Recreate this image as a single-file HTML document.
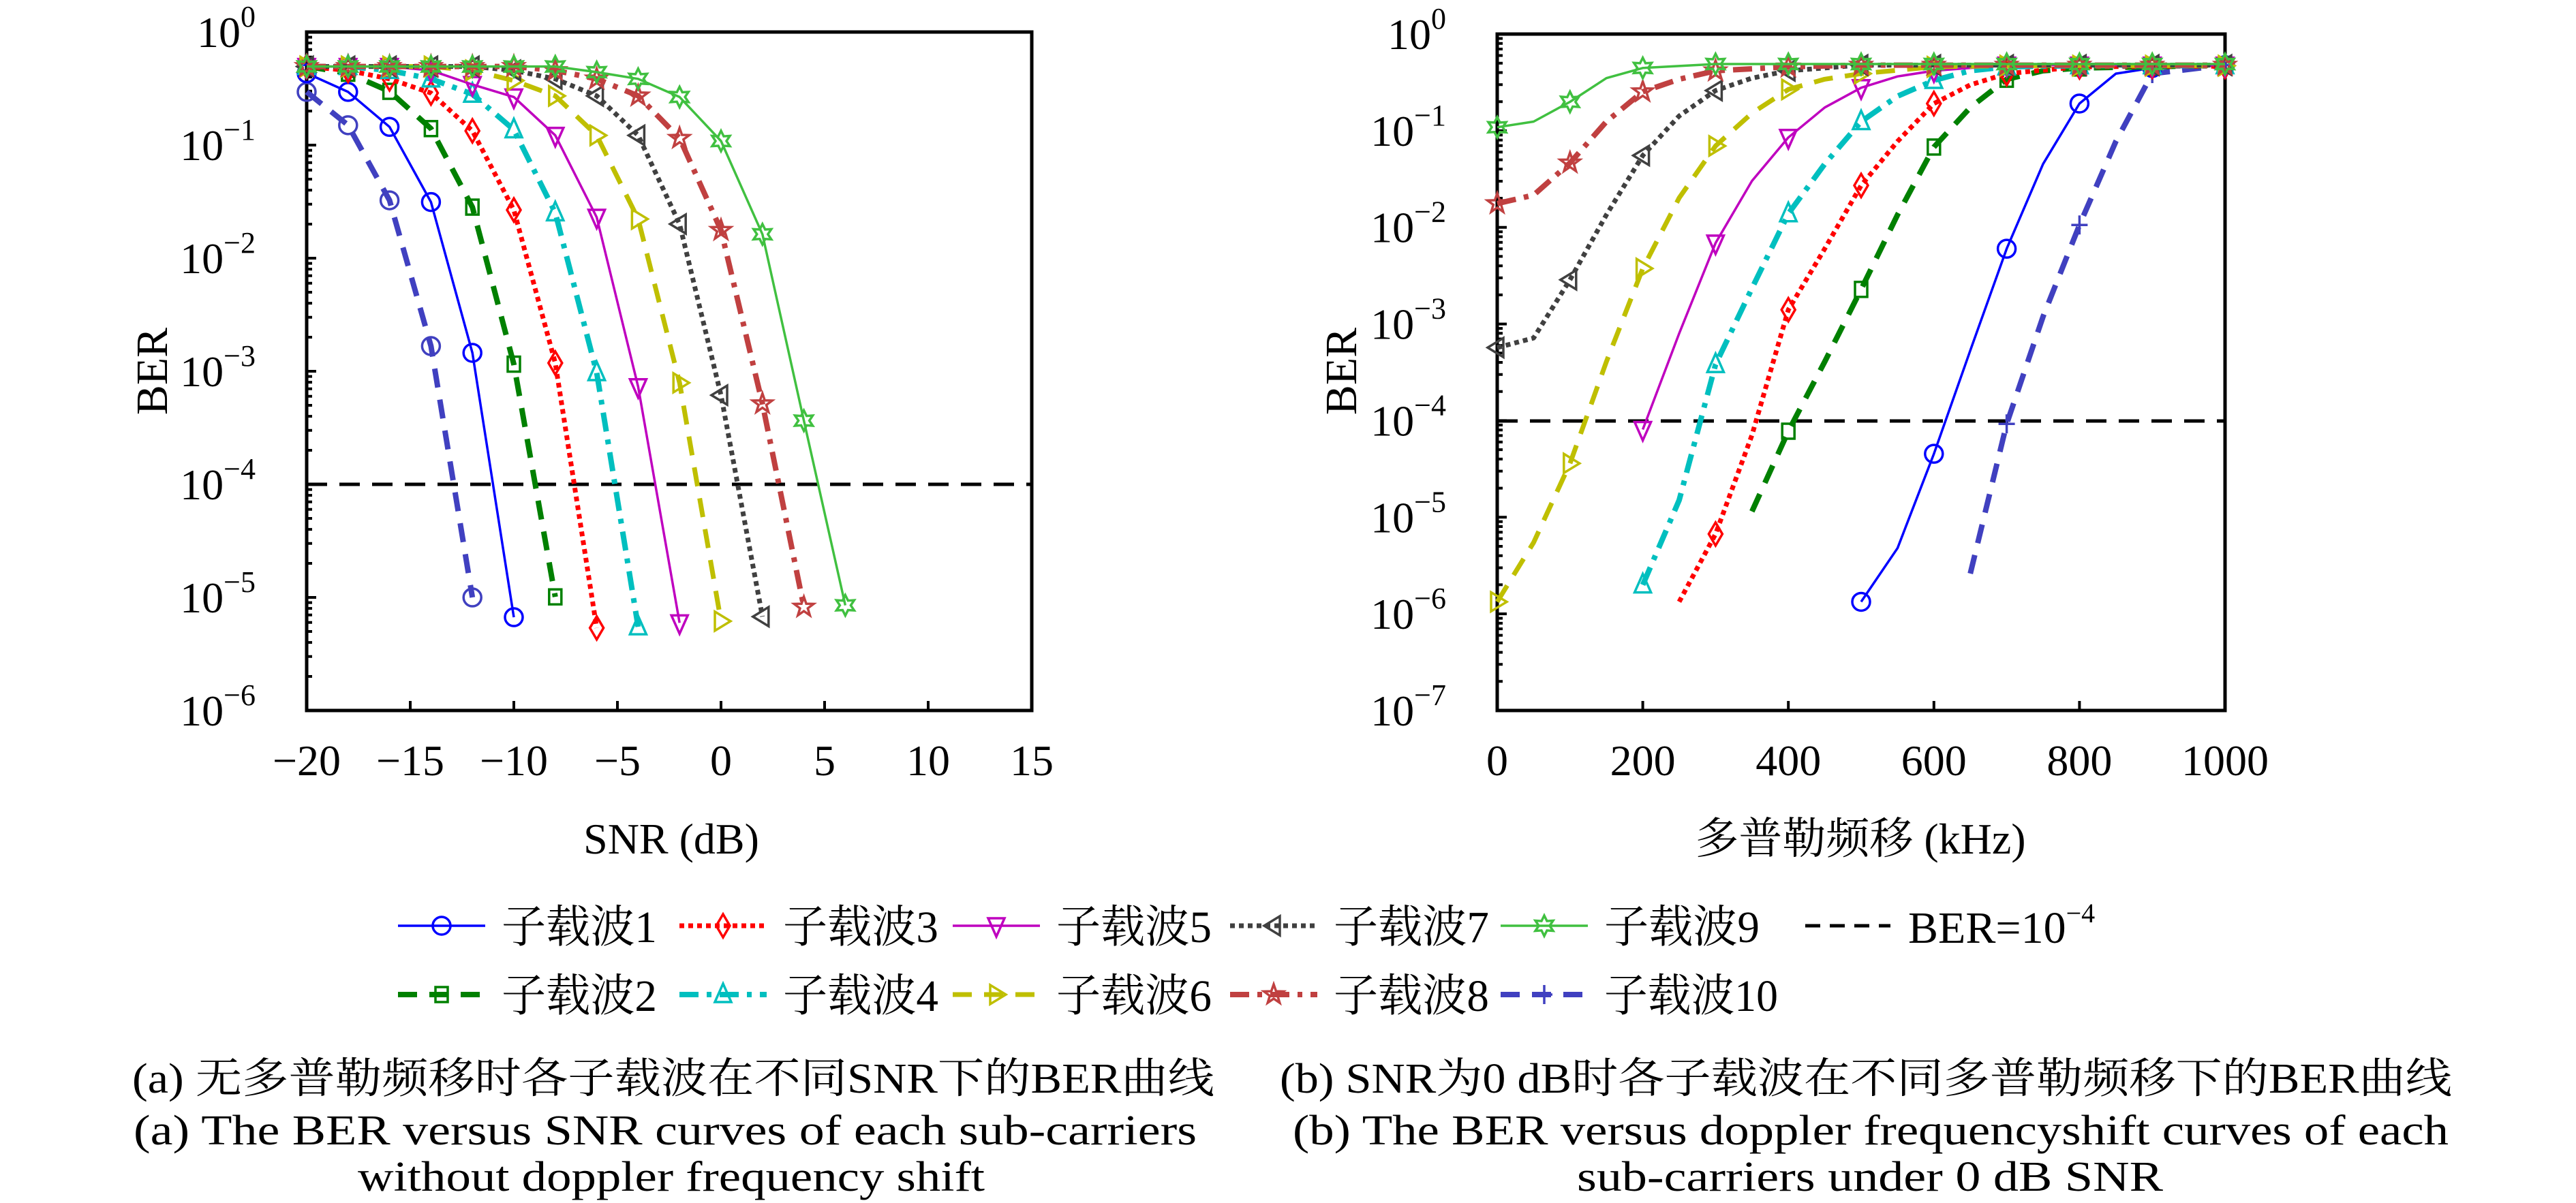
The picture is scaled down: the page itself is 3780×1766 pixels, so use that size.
<!DOCTYPE html>
<html><head><meta charset="utf-8"><style>
html,body{margin:0;padding:0;background:#fff;}
svg{display:block}
text{font-family:"Liberation Serif","Noto Serif CJK SC","Noto Sans CJK SC",serif;fill:#000}
</style></head><body>
<svg id="s" width="3780" height="1766" viewBox="0 0 3780 1766" xmlns="http://www.w3.org/2000/svg"></svg>
<script>
const NS="http://www.w3.org/2000/svg",S=document.getElementById('s');
function el(t,a,p){const e=document.createElementNS(NS,t);for(const k in a)e.setAttribute(k,a[k]);(p||S).appendChild(e);return e;}
function txt(x,y,s,a){const e=el('text',Object.assign({x:x,y:y},a||{}));e.textContent=s;return e;}
const C={1:'#0000ff',2:'#008000',3:'#ff0000',4:'#00bfbf',5:'#bf00bf',6:'#bfbf00',7:'#404040',8:'#c04040',9:'#40c040',10:'#4040c0'};
const ST={1:['',3.5],2:['28,18',8],3:['7,6',7],4:['28,12,7,12',8],5:['',3.5],6:['28,18',7],7:['7,6',7],8:['28,12,7,12',8],9:['',3.5],10:['28,18',8]};
const MK={1:'o',2:'s',3:'d',4:'^',5:'v',6:'>',7:'<',8:'*',9:'h',10:'o'};
function marker(t,x,y,c,g){const a={fill:'none',stroke:c,'stroke-width':3.5};const r=13;
 if(t=='o')el('circle',Object.assign({cx:x,cy:y,r:r},a),g);
 else if(t=='s')el('rect',Object.assign({x:x-9,y:y-11,width:18,height:22},a),g);
 else if(t=='d')el('polygon',Object.assign({points:`${x},${y-17} ${x+10},${y} ${x},${y+17} ${x-10},${y}`},a),g);
 else if(t=='^')el('polygon',Object.assign({points:`${x},${y-16} ${x+12},${y+11} ${x-12},${y+11}`},a),g);
 else if(t=='v')el('polygon',Object.assign({points:`${x},${y+16} ${x+12},${y-11} ${x-12},${y-11}`},a),g);
 else if(t=='>')el('polygon',Object.assign({points:`${x+14},${y} ${x-9},${y-14} ${x-9},${y+14}`},a),g);
 else if(t=='<')el('polygon',Object.assign({points:`${x-14},${y} ${x+9},${y-14} ${x+9},${y+14}`},a),g);
 else if(t=='+'){el('path',Object.assign({d:`M${x-12} ${y}H${x+12}M${x} ${y-14}V${y+14}`},a),g);}
 else if(t=='*'){let p=[];for(let i=0;i<10;i++){const ang=-Math.PI/2+i*Math.PI/5,rr=i%2?6:15;p.push((x+rr*Math.cos(ang)).toFixed(1)+','+(y+rr*Math.sin(ang)).toFixed(1));}el('polygon',Object.assign({points:p.join(' ')},a),g);}
 else if(t=='h'){let p=[];for(let i=0;i<12;i++){const ang=-Math.PI/2+i*Math.PI/6,rr=i%2?8:15;p.push((x+rr*Math.cos(ang)).toFixed(1)+','+(y+rr*Math.sin(ang)).toFixed(1));}el('polygon',Object.assign({points:p.join(' ')},a),g);}
}
function series(id,pts,fx,fy,mkf,mt){const c=C[id];const d=pts.map((p,i)=>(i?'L':'M')+fx(p[0]).toFixed(1)+' '+fy(p[1]).toFixed(1)).join('');
 el('path',{d:d,fill:'none',stroke:c,'stroke-width':ST[id][1],'stroke-dasharray':ST[id][0]||'none','stroke-linejoin':'round'});
 pts.forEach(p=>{if(mkf(p[0]))marker(mt||MK[id],fx(p[0]),fy(p[1]),c);});}
function fill(a,from,step,val){const r=[];for(let x=from;x<a[0][0];x+=step)r.push([x,val]);return r.concat(a);}
const LX=s=>450+30.4*(s+20),LY=y=>47+(y-57)*0.8292;
const Ldat={
1:[[-20,130],[-18,163],[-16,225],[-14,358],[-12,625],[-10,1093]],
10:[[-20,163],[-18,222],[-16,355],[-14,613],[-12,1058]],
2:[[-20,118],[-18,130],[-16,162],[-14,228],[-12,367],[-10,645],[-8,1057]],
3:[[-20,118],[-18,125],[-16,140],[-14,165],[-12,232],[-10,372],[-8,643],[-6,1112]],
4:fill([[-16,125],[-14,140],[-12,167],[-10,230],[-8,377],[-6,660],[-4,1110]],-20,2,118),
5:fill([[-14,125],[-12,150],[-10,172],[-8,240],[-6,385],[-4,685],[-2,1103]],-20,2,118),
6:fill([[-12,125],[-10,143],[-8,170],[-6,240],[-4,388],[-2,678],[0,1100]],-20,2,118),
7:fill([[-10,125],[-8,140],[-6,170],[-4,240],[-2,397],[0,700],[2,1092]],-20,2,118),
8:fill([[-8,125],[-6,140],[-4,170],[-2,245],[0,408],[2,715],[4,1075]],-20,2,118),
9:fill([[-6,128],[-4,140],[-2,172],[0,250],[2,415],[4,745],[6,1072]],-20,2,118)};
const RX=k=>2197+1.068*k,RY=y=>50+(y-60)*0.8293;
function tail(a,v){const r=a.slice();let last=r[r.length-1][0];for(let k=Math.ceil((last+1)/100)*100;k<=1000;k+=100)r.push([k,v]);return r;}
const Rdat={
9:tail([[0,225],[50,215],[100,180],[150,138],[200,120],[300,113]],113),
8:tail([[0,360],[50,345],[100,288],[150,215],[200,162],[250,140],[300,125],[400,118]],115),
7:tail([[0,615],[50,598],[100,495],[150,380],[200,275],[250,205],[300,160],[350,138],[400,125],[500,115]],115),
6:tail([[0,1065],[50,960],[100,820],[150,640],[200,475],[250,350],[300,258],[350,200],[400,158],[450,140],[500,130],[600,118]],116),
5:tail([[200,760],[250,590],[300,430],[350,320],[400,243],[450,190],[500,155],[550,135],[600,125],[700,115]],115),
4:tail([[200,1035],[250,885],[300,645],[350,510],[400,378],[450,290],[500,215],[550,170],[600,142],[650,125],[700,118]],116),
3:tail([[250,1065],[300,945],[350,770],[400,548],[450,440],[500,328],[550,250],[600,183],[650,150],[700,130],[800,118]],117),
2:[[350,905],[400,763],[450,640],[500,512],[550,380],[600,260],[650,190],[700,140],[750,125],[800,120],[900,118],[1000,115]],
1:[[500,1065],[550,970],[600,803],[650,620],[700,440],[750,290],[800,183],[850,130],[900,120],[1000,115]],
10:[[650,1015],[700,750],[750,560],[800,398],[850,250],[900,130],[1000,115]]};
function axes(x0,x1,y0,y1,decs,xt,labFmt,ylab0){
 const dh=(y1-y0)/decs;let d='';
 for(let i=0;i<decs;i++){const yb=y0+(i+1)*dh;for(let m=2;m<=9;m++){const y=yb-dh*Math.log10(m);d+=`M${x0} ${y.toFixed(1)}h8`;}}
 for(let i=0;i<=decs;i++){const y=y0+i*dh;d+=`M${x0} ${y.toFixed(1)}h14`;
   const g=el('text',{x:ylab0,y:y+22,'font-size':64,'text-anchor':'end'});
   g.textContent='10';const t=el('tspan',{dy:-30,'font-size':44},g);t.textContent=(i?'−':'')+i;}
 xt.forEach(v=>{d+=`M${v[0]} ${y1}v-14`;txt(v[0],y1+95,v[1],{'font-size':64,'text-anchor':'middle'});});
 el('path',{d:d,stroke:'#000','stroke-width':4,fill:'none'});
 el('rect',{x:x0,y:y0,width:x1-x0,height:y1-y0,fill:'none',stroke:'#000','stroke-width':5});
}
axes(450,1514,47,1043,6,[-20,-15,-10,-5,0,5,10,15].map(v=>[LX(v),(v<0?'−':'')+Math.abs(v)]),null,375);
axes(2197,3265,50,1043,7,[0,200,400,600,800,1000].map(v=>[RX(v),''+v]),null,2122);
el('path',{d:`M450 711H1514`,stroke:'#000','stroke-width':5,'stroke-dasharray':'30,18'});
el('path',{d:`M2197 618H3265`,stroke:'#000','stroke-width':5,'stroke-dasharray':'30,18'});
[10,1,2,3,4,5,6,7,8,9].forEach(i=>series(i,Ldat[i],LX,LY,()=>true));
[10,1,2,3,4,5,6,7,8,9].forEach(i=>series(i,Rdat[i],RX,RY,k=>k%100==0,i==10?'+':null));
txt(0,0,'BER',{'font-size':66,'text-anchor':'middle',transform:'translate(245,545) rotate(-90)'});
txt(0,0,'BER',{'font-size':66,'text-anchor':'middle',transform:'translate(1990,545) rotate(-90)'});
txt(985,1253,'SNR (dB)',{'font-size':64,'text-anchor':'middle'});
txt(2730,1253,'多普勒频移 (kHz)',{'font-size':64,'text-anchor':'middle'});
const LG=[[1,584,1359],[3,997,1359],[5,1398,1359],[7,1805,1359],[9,2202,1359],[2,584,1460],[4,997,1460],[6,1398,1460],[8,1805,1460],[10,2202,1460]];
LG.forEach(([i,x,y])=>{const c=C[i];el('path',{d:`M${x} ${y}h128`,stroke:c,'stroke-width':ST[i][1],'stroke-dasharray':ST[i][0]||'none',fill:'none'});
 marker(i==10?'+':MK[i],x+64,y,c);
 txt(x+152,y+24,'子载波'+i,{'font-size':66,textLength:i==10?255:228,lengthAdjust:'spacingAndGlyphs'});});
el('path',{d:'M2649 1359h125',stroke:'#000','stroke-width':5,'stroke-dasharray':'22,14'});
const b=el('text',{x:2800,y:1384,'font-size':66});b.textContent='BER=10';const bt=el('tspan',{dy:-30,'font-size':40},b);bt.textContent='−4';
function cap(x,y,s,w){txt(x,y,s,{'font-size':62,textLength:w,lengthAdjust:'spacingAndGlyphs'});}
cap(194,1604,'(a) 无多普勒频移时各子载波在不同SNR下的BER曲线',1588);
cap(196,1680,'(a) The BER versus SNR curves of each sub-carriers',1560);
cap(525,1748,'without doppler frequency shift',920);
cap(1878,1604,'(b) SNR为0 dB时各子载波在不同多普勒频移下的BER曲线',1720);
cap(1897,1680,'(b) The BER versus doppler frequencyshift curves of each',1696);
cap(2314,1748,'sub-carriers under 0 dB SNR',860);
</script>
</body></html>
